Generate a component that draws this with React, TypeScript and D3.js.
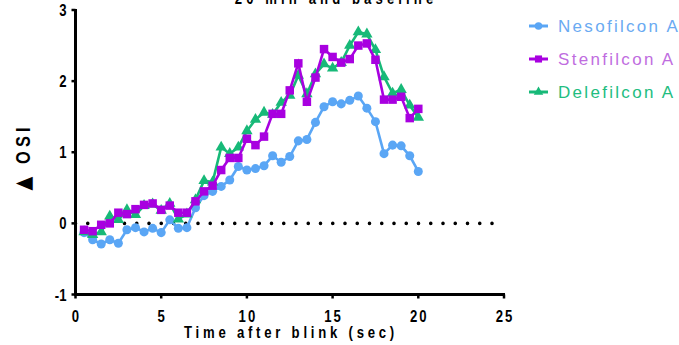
import * as d3 from "d3";

// time after blink (sec)
const TIME = [
  0.5, 1, 1.5, 2, 2.5, 3, 3.5, 4, 4.5, 5, 5.5, 6, 6.5, 7, 7.5, 8, 8.5, 9, 9.5, 10,
  10.5, 11, 11.5, 12, 12.5, 13, 13.5, 14, 14.5, 15, 15.5, 16, 16.5, 17, 17.5, 18, 18.5, 19, 19.5, 20,
];

const NESOFILCON = [
  -0.13, -0.23, -0.29, -0.23, -0.28, -0.09, -0.06, -0.12, -0.07, -0.13, 0.05, -0.07, -0.06, 0.22, 0.39, 0.45, 0.52, 0.61, 0.8, 0.75,
  0.77, 0.81, 0.95, 0.86, 0.94, 1.16, 1.18, 1.42, 1.64, 1.71, 1.68, 1.73, 1.79, 1.62, 1.43, 0.98, 1.1, 1.09, 0.95, 0.73,
];

const STENFILCON = [
  -0.09, -0.11, -0.02, 0.0, 0.15, 0.13, 0.2, 0.26, 0.28, 0.19, 0.25, 0.15, 0.15, 0.31, 0.45, 0.53, 0.75, 0.92, 0.92, 1.19,
  1.1, 1.22, 1.54, 1.54, 1.87, 2.25, 1.71, 2.05, 2.45, 2.34, 2.26, 2.31, 2.5, 2.53, 2.3, 1.74, 1.74, 1.78, 1.48, 1.61,
];

const DELEFILCON = [
  -0.12, -0.16, -0.12, 0.1, 0.05, 0.19, 0.12, 0.25, 0.27, 0.18, 0.28, 0.06, 0.13, 0.33, 0.6, 0.58, 1.07, 0.98, 1.07, 1.3,
  1.46, 1.56, 1.53, 1.7, 1.8, 2.08, 1.82, 2.1, 2.24, 2.18, 2.26, 2.5, 2.69, 2.66, 2.44, 2.06, 1.83, 1.88, 1.66, 1.49,
];

const X_TICKS = [0, 5, 10, 15, 20, 25];
const Y_TICKS = [-1, 0, 1, 2, 3];

const SERIES = [
  { name: "Nesofilcon A", values: NESOFILCON, color: "#5aa6f5", text: "#6aaaf2", symbol: d3.symbolCircle, size: 64 },
  { name: "Delefilcon A", values: DELEFILCON, color: "#17b978", text: "#22bd80", symbol: d3.symbolTriangle, size: 56 },
  { name: "Stenfilcon A", values: STENFILCON, color: "#a800e0", text: "#bf6ddf", symbol: d3.symbolSquare, size: 72 },
];
const LEGEND_ORDER = ["Nesofilcon A", "Stenfilcon A", "Delefilcon A"];

const FONT = "Arial, 'Liberation Sans', sans-serif";
const SQUEEZE = 0.82; // bold labels are drawn narrow and spaced out

export default function App() {
  const width = 679;
  const height = 345;

  const x = d3.scaleLinear().domain([0, 25]).range([75.5, 504]);
  const y = d3.scaleLinear().domain([-1, 3]).range([294.5, 10]);

  const line = d3.line<number>()
    .x((_, i) => x(TIME[i]))
    .y(d => y(d));

  return (
    <svg width={width} height={height} style={{ position: "absolute", left: 0, top: 0, background: "#fff" }}>
      {/* title (first line is off the top, as in the original) */}
      <text transform={`translate(336,4) scale(${SQUEEZE},1)`} textAnchor="middle" fontFamily={FONT}
        fontWeight="bold" fontSize={16} letterSpacing={5}>
        20 min and baseline
      </text>

      {/* zero reference */}
      <line x1={x(0)} x2={x(25)} y1={y(0)} y2={y(0)} stroke="#000" strokeWidth={3.6}
        strokeLinecap="round" strokeDasharray="0 12.25" />

      {/* series */}
      {SERIES.map(s => (
        <g key={s.name}>
          <path d={line(s.values) ?? ""} fill="none" stroke={s.color} strokeWidth={2.6} />
          {s.values.map((v, i) => (
            <path key={i} transform={`translate(${x(TIME[i])},${y(v)})`}
              d={d3.symbol(s.symbol, s.size)() ?? ""} fill={s.color} />
          ))}
        </g>
      ))}

      {/* axes */}
      <line x1={x(0)} x2={x(0)} y1={y(3) - 1} y2={y(-1) + 1.5} stroke="#000" strokeWidth={3} />
      <line x1={x(0) - 1.5} x2={x(25) + 1} y1={y(-1)} y2={y(-1)} stroke="#000" strokeWidth={3} />
      {Y_TICKS.map(t => (
        <g key={t}>
          <line x1={x(0) - 4} x2={x(0)} y1={y(t)} y2={y(t)} stroke="#000" strokeWidth={2.5} />
          <text transform={`translate(${x(0) - 9},${y(t) + 6}) scale(${SQUEEZE},1)`} textAnchor="end"
            fontFamily={FONT} fontWeight="bold" fontSize={16}>
            {t}
          </text>
        </g>
      ))}
      {X_TICKS.map(t => (
        <g key={t}>
          <line x1={x(t)} x2={x(t)} y1={y(-1)} y2={y(-1) + 4} stroke="#000" strokeWidth={2.5} />
          <text transform={`translate(${x(t) + 1},${y(-1) + 27}) scale(${SQUEEZE},1)`} textAnchor="middle"
            fontFamily={FONT} fontWeight="bold" fontSize={16} letterSpacing={2.5}>
            {t}
          </text>
        </g>
      ))}

      <text transform={`translate(291,338) scale(${SQUEEZE},1)`} textAnchor="middle" fontFamily={FONT}
        fontWeight="bold" fontSize={16} letterSpacing={4.6}>
        Time after blink (sec)
      </text>
      <text transform={`translate(30,157) rotate(-90) scale(${SQUEEZE},1)`} textAnchor="middle" fontFamily={FONT}
        fontWeight="bold" fontSize={20} letterSpacing={5}>
        <tspan fontFamily="'DejaVu Sans', sans-serif" fontSize={22}>▲</tspan> OSI
      </text>

      {/* legend */}
      {LEGEND_ORDER.map((name, i) => {
        const s = SERIES.find(d => d.name === name)!;
        const cy = 26 + i * 33;
        return (
          <g key={name}>
            <line x1={529} x2={548} y1={cy} y2={cy} stroke={s.color} strokeWidth={3} />
            <path transform={`translate(538.5,${cy})`} d={d3.symbol(s.symbol, s.size * 0.7)() ?? ""} fill={s.color} />
            <text x={558} y={cy + 6} fontFamily={FONT} fontSize={17} letterSpacing={2.3} fill={s.text}>
              {name}
            </text>
          </g>
        );
      })}
    </svg>
  );
}
